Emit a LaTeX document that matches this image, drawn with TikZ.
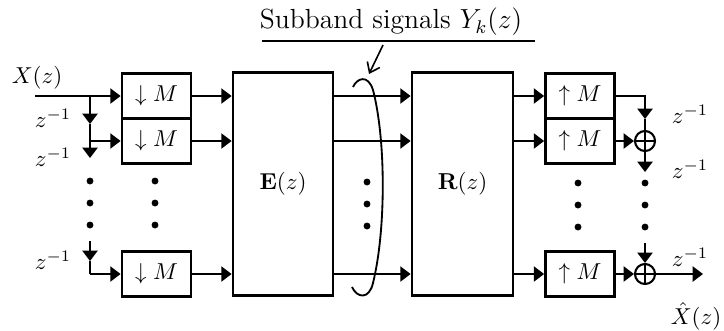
\documentclass[tikz,border=0pt]{standalone}
\usepackage{amsmath}
\usetikzlibrary{arrows.meta}
\begin{document}
\begin{tikzpicture}[x=0.01528cm,y=-0.01528cm,
  >={Triangle[length=4.5pt,width=6.6pt]},
  sig/.style={line width=0.8pt},
  boxs/.style={draw,line width=1.2pt,minimum width=1.054cm,minimum height=0.688cm,inner sep=0pt},
  bigbox/.style={draw,line width=1.2pt,minimum width=1.528cm,minimum height=3.407cm,inner sep=0pt},
  adder/.style={draw,circle,line width=0.9pt,minimum size=0.306cm,inner sep=0pt,
    path picture={\draw[line width=0.8pt] (path picture bounding box.north) -- (path picture bounding box.south)
      (path picture bounding box.west) -- (path picture bounding box.east);}},
  dot/.style={circle,fill,inner sep=0pt,minimum size=3pt}]
\useasboundingbox (0,0) rectangle (724,330);

% blocks
\node[boxs] (d1) at (156.5,96) {$\downarrow M$};
\node[boxs] (d2) at (156.5,141) {$\downarrow M$};
\node[boxs] (d3) at (156.5,274) {$\downarrow M$};
\node[bigbox] (E) at (283,184) {$\mathbf{E}(z)$};
\node[bigbox,minimum width=1.543cm] (R) at (462.5,184) {$\mathbf{R}(z)$};
\node[boxs] (u1) at (580,96) {$\uparrow M$};
\node[boxs] (u2) at (580,141) {$\uparrow M$};
\node[boxs] (u3) at (580,274) {$\uparrow M$};
\node[adder] (a1) at (645,141) {};
\node[adder] (a2) at (645,274) {};

% coordinates
\coordinate (xin) at (35,96);
\coordinate (b1) at (90,96);
\coordinate (b2) at (90,141);
\coordinate (b3) at (90,274);
\coordinate (tl1) at (90,124);
\coordinate (tl2) at (90,158);
\coordinate (tl3s) at (90,241);
\coordinate (tl3) at (90,261);
\coordinate (c1) at (645,96);
\coordinate (tr1) at (645,119);
\coordinate (tr2) at (645,172);
\coordinate (tr3s) at (645,243);
\coordinate (xout) at (703,274);

% analysis side
\draw[sig,->] (xin) -- (d1.west);
\draw[sig,->] (b1) -- (tl1);
\draw[sig] (tl1) -- (b2);
\draw[sig,->] (b2) -- (d2.west);
\draw[sig,->] (b2) -- (tl2);
\draw[sig,->] (tl3s) -- (tl3);
\draw[sig] (tl3) -- (b3);
\draw[sig,->] (b3) -- (d3.west);
\foreach \i in {1,2,3} {
  \draw[sig,->] (d\i.east) -- (d\i.east -| E.west);
  \draw[sig,->] (E.east |- d\i) -- (R.west |- d\i);
  \draw[sig,->] (R.east |- u\i) -- (u\i.west);
}
% synthesis side
\draw[sig,->] (u1.east) -- (c1) -- (tr1);
\draw[sig] (tr1) -- (a1.north);
\draw[sig,->] (u2.east) -- (a1.west);
\draw[sig,->] (a1.south) -- (tr2);
\draw[sig,->] (tr3s) -- (a2.north);
\draw[sig,->] (u3.east) -- (a2.west);
\draw[sig,->] (a2.east) -- (xout);

% dots
\foreach \x/\n in {90/l,155/m}
  \foreach \y/\k in {181/1,203/2,225/3}
    \node[dot] (dot\n\k) at (\x,\y) {};
\foreach \y/\k in {182/1,204/2,226/3}
  \node[dot] (dotc\k) at (367,\y) {};
\foreach \x/\n in {578/r,645/s}
  \foreach \y/\k in {183/1,205/2,227/3}
    \node[dot] (dot\n\k) at (\x,\y) {};

% labels
\node (lx) at (37,78) {$X(z)$};
\node (lz1) at (53,118) {$z^{-1}$};
\node (lz2) at (53,157) {$z^{-1}$};
\node (lz3) at (53,260) {$z^{-1}$};
\node (rz1) at (690,114) {$z^{-1}$};
\node (rz2) at (690,169) {$z^{-1}$};
\node (rz3) at (690,257) {$z^{-1}$};
\node[inner sep=1pt] (lxh) at (696,316) {$\hat{X}(z)$};
\node[font=\large] (sb) at (391,22) {Subband signals $Y_k(z)$};
\coordinate (ul1) at (262,41);
\coordinate (ul2) at (535,41);
\draw[line width=0.8pt] (ul1) -- (ul2);

% bracket around subband signals
\coordinate (ps) at (383,45);
\coordinate (pe) at (369,74);
\draw[line width=0.7pt,-{Straight Barb[length=4pt,width=6pt]}] (ps) -- (pe);
\draw[line width=0.8pt] (353,87) .. controls (357,78) and (368,74) .. (373,90)
  .. controls (386,140) and (386,230) .. (373,283)
  .. controls (369,300) and (357,298) .. (352,287);
\end{tikzpicture}
\end{document}
